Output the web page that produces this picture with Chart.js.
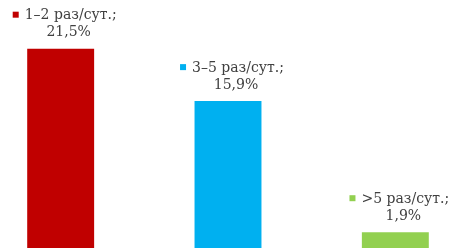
<!DOCTYPE html>
<html>
<head>
<meta charset="utf-8">
<script src="https://cdn.jsdelivr.net/npm/chart.js@4"></script>
<style>
  html, body { margin: 0; padding: 0; background: #fff; overflow: hidden; }
  #wrap { position: relative; width: 449px; height: 248px; overflow: hidden; }
  #chBar { position: absolute; left: -23px; top: 0; }
</style>
</head>
<body>
<div id="wrap"><canvas id="chBar" width="502" height="250"></canvas></div>
<script>
// частота
const categories = ['1–2 раз/сут.;', '3–5 раз/сут.;', '>5 раз/сут.;'];
const shares = [21.5, 15.9, 1.9];
const colors = ['#C00000', '#00B0F0', '#92D050'];

/* подписи над столбиками */
const barLabels = {
  id: 'barLabels',
  afterDatasetsDraw(chart) {
    const ctx = chart.ctx;
    const bars = chart.getDatasetMeta(0).data;
    ctx.save();
    ctx.font = '14px "DejaVu Serif", "Liberation Serif", serif';
    ctx.fillStyle = '#404040';
    ctx.textBaseline = 'middle';
    bars.forEach((bar, i) => {
      const line1 = categories[i];
      const line2 = shares[i].toFixed(1).replace('.', ',') + '%';
      const w1 = ctx.measureText(line1).width;
      const sq = 6, gap = 6;
      const total = sq + gap + w1;
      const cx = bar.x + 4;
      const y2 = bar.y - 16;
      const y1 = y2 - 17;
      const left = cx - total / 2;
      ctx.fillStyle = colors[i];
      ctx.fillRect(left, y1 - 4, sq, sq);
      ctx.fillStyle = '#404040';
      ctx.textAlign = 'left';
      ctx.fillText(line1, left + sq + gap, y1);
      ctx.textAlign = 'center';
      ctx.fillText(line2, cx + 4, y2);
    });
    ctx.restore();
  }
};

const chBar = document.getElementById('chBar');
if (chBar) {
  new Chart(chBar, {
    type: 'bar',
    data: {
      labels: categories,
      datasets: [{
        data: shares,
        backgroundColor: colors,
        borderWidth: 0,
        categoryPercentage: 0.4,
        barPercentage: 1
      }]
    },
    options: {
      responsive: false,
      animation: false,
      layout: { padding: 0 },
      plugins: { legend: { display: false }, tooltip: { enabled: false } },
      scales: {
        x: { display: false },
        y: { display: false, min: 0, max: 26.7 }
      }
    },
    plugins: [barLabels]
  });
}
</script>
</body>
</html>
